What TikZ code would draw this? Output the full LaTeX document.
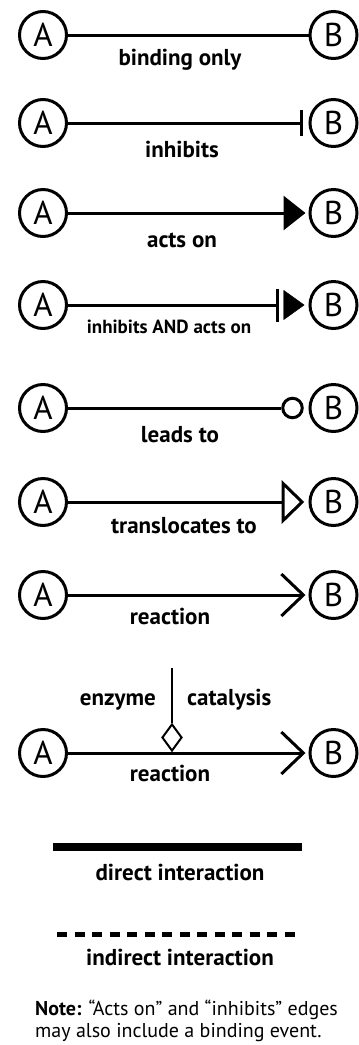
\documentclass[tikz,border=0pt]{standalone}
\usepackage{fontspec}
\setmainfont{PT Sans}
\usetikzlibrary{arrows.meta,shapes.geometric}
\tikzset{
  mol/.style={circle,draw,line width=3pt,minimum size=47pt,inner sep=0pt,
    font=\fontsize{33}{33}\selectfont},
  edge/.style={line width=3pt},
  lbl/.style={anchor=base,inner sep=0pt,font=\bfseries\fontsize{23}{24}\selectfont},
  smalllbl/.style={lbl,font=\bfseries\fontsize{19}{21}\selectfont},
  note/.style={anchor=base west,inner sep=0pt,font=\fontsize{20}{22}\selectfont}
}
\begin{document}
\begin{tikzpicture}[x=1pt,y=-1pt]
\useasboundingbox (0,0) rectangle (359,1045);

% binding only
\node[mol] (a1) at (43,35) {A};
\node[mol] (b1) at (333.5,35) {B};
\draw[edge] (a1) -- (b1);
\node[lbl] (l1) at (180,65) {binding only};

% inhibits
\node[mol] (a2) at (43,123) {A};
\node[mol] (b2) at (333.5,123) {B};
\draw[edge,-{Bar[width=26pt,line width=3.5pt]},shorten >=5.5pt] (a2) -- (b2);
\node[lbl] (l2) at (182,157) {inhibits};

% acts on
\node[mol] (a3) at (43,213) {A};
\node[mol] (b3) at (333.5,213) {B};
\draw[edge,-{Triangle[length=22pt,width=34pt]},shorten >=3pt] (a3) -- (b3);
\node[lbl] (l3) at (182,247) {acts on};

% inhibits AND acts on
\node[mol] (a4) at (43,305) {A};
\node[mol] (b4) at (333.5,305) {B};
\coordinate (h4) at (279,305);
\draw[edge,-{Bar[width=33pt,line width=3.5pt]}] (a4) -- (h4);
\draw[-{Triangle[length=21pt,width=30pt]},shorten <=6pt,shorten >=4pt] (h4) -- (b4);
\node[smalllbl] (l4) at (169,333) {inhibits AND acts on};

% leads to
\node[mol] (a5) at (43,408) {A};
\node[mol] (b5) at (333.5,408) {B};
\node[circle,draw,line width=3pt,minimum size=19.5pt,inner sep=0pt] (c5) at (292.5,408) {};
\draw[edge] (a5) -- (c5);
\node[lbl] (l5) at (180,442) {leads to};

% translocates to
\node[mol] (a6) at (43,502) {A};
\node[mol] (b6) at (333.5,502) {B};
\node[isosceles triangle,isosceles triangle stretches,draw,line width=3pt,
  minimum width=37pt,minimum height=19pt,inner sep=0pt,anchor=apex] (t6) at (306,502) {};
\draw[edge] (a6) -- (t6);
\node[lbl] (l6) at (184,533) {translocates to};

% reaction
\node[mol] (a7) at (43,595) {A};
\node[mol] (b7) at (333.5,595) {B};
\draw[edge,-{Straight Barb[length=22pt,width=42pt]},shorten >=3pt] (a7) -- (b7);
\node[lbl] (l7) at (170,624) {reaction};

% enzyme catalysis
\node[mol] (a8) at (43,753) {A};
\node[mol] (b8) at (333.5,753) {B};
\draw[edge,-{Straight Barb[length=22pt,width=42pt]},shorten >=3pt] (a8) -- (b8);
\node[diamond,draw,line width=2pt,fill=white,minimum width=20pt,minimum height=27pt,
  inner sep=0pt,anchor=south] (cat) at (172,752) {};
\coordinate (enz) at (172,668);
\draw[line width=2pt] (enz) -- (cat);
\node[lbl,anchor=base east] (l8a) at (156,705) {enzyme};
\node[lbl,anchor=base west] (l8b) at (187,705) {catalysis};
\node[lbl] (l8) at (170,781) {reaction};

% legend
\coordinate (d1) at (53,847);
\coordinate (d2) at (302,847);
\draw[line width=8pt] (d1) -- (d2);
\node[lbl] (ld) at (180,880) {direct interaction};
\coordinate (i1) at (57,934);
\coordinate (i2) at (295,934);
\draw[line width=5pt,dash pattern=on 10pt off 7.5pt] (i1) -- (i2);
\node[lbl] (li) at (180,965) {indirect interaction};

% note
\node[note] (n1) at (35,1015) {\textbf{Note:} “Acts on” and “inhibits” edges};
\node[note] (n2) at (35,1037) {may also include a binding event.};
\end{tikzpicture}
\end{document}
